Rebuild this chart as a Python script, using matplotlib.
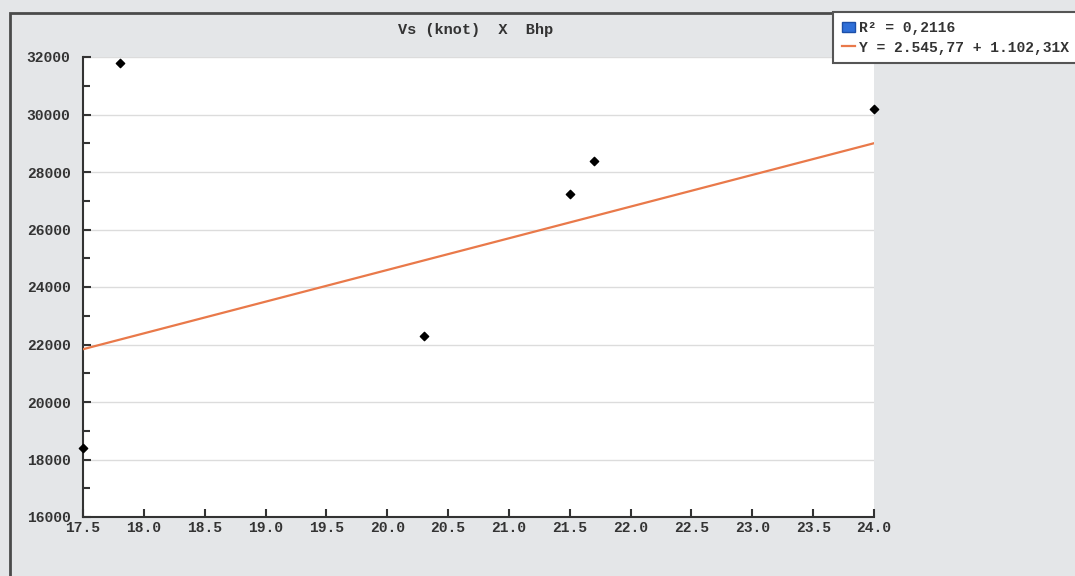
import matplotlib.pyplot as plt
from matplotlib.patches import Patch, Rectangle
from matplotlib.lines import Line2D
import numpy as np

# speed (knots) vs brake horsepower
vs = [17.5, 17.8, 20.3, 21.5, 21.7, 24.0]
bhp = [18400, 31800, 22300, 27250, 28400, 30200]

intercept = 2545.77
slope = 1102.31
r2 = "0,2116"

x_ticks = [17.5, 18.0, 18.5, 19.0, 19.5, 20.0, 20.5, 21.0, 21.5, 22.0, 22.5, 23.0, 23.5, 24.0]
y_ticks = [16000, 18000, 20000, 22000, 24000, 26000, 28000, 30000, 32000]

font = "Liberation Mono"
bg = "#e4e6e8"
line_col = "#e9794a"

fig = plt.figure(figsize=(10.75, 5.76), dpi=100, facecolor=bg)
ax = fig.add_axes([83 / 1075, 1 - 517 / 576, (874 - 83) / 1075, (517 - 57) / 576])

# outer frame
fig.patches.append(Rectangle((10 / 1075, -0.02), 1.0, 1 - 13 / 576 + 0.02,
                             transform=fig.transFigure, fill=False,
                             edgecolor="#4a4a4a", linewidth=2, zorder=0))

ax.set_facecolor("white")
ax.set_xlim(17.5, 24.0)
ax.set_ylim(16000, 32000)

xs = np.array([17.5, 24.0])
ax.plot(xs, intercept + slope * xs, color=line_col, linewidth=1.6, zorder=3)
ax.scatter(vs, bhp, marker="D", s=18, color="black", zorder=4, clip_on=False)

ax.set_xticks(x_ticks)
ax.set_xticklabels([f"{t:.1f}" for t in x_ticks])
ax.set_yticks(y_ticks)
ax.set_yticks(np.arange(17000, 32000, 2000), minor=True)
ax.set_yticklabels([str(t) for t in y_ticks])
ax.grid(axis="y", which="major", color="#dcdcdc", linewidth=1)

for s in ["top", "right"]:
    ax.spines[s].set_visible(False)
for s in ["left", "bottom"]:
    ax.spines[s].set_color("#333333")
    ax.spines[s].set_linewidth(1.5)

ax.tick_params(axis="both", which="both", direction="in", color="#333333", width=1.5)
ax.tick_params(axis="both", which="major", length=6)
ax.tick_params(axis="y", which="minor", length=5)
ax.tick_params(axis="x", pad=3)
ax.tick_params(axis="y", pad=9)
for lab in ax.get_xticklabels() + ax.get_yticklabels():
    lab.set_fontfamily(font)
    lab.set_fontsize(10.5)
    lab.set_fontweight("bold")
    lab.set_color("#333333")

fig.text(476 / 1075, 1 - 30 / 576, "Vs (knot)  X  Bhp", ha="center", va="center",
         fontfamily=font, fontsize=11, fontweight="bold", color="#333333")

handles = [Patch(facecolor="#2f6fd8", edgecolor="#1c4fa8"),
           Line2D([0], [0], color=line_col, linewidth=1.6)]
labels = [f"R\u00b2 = {r2}", "Y = 2.545,77 + 1.102,31X"]
leg = fig.legend(handles, labels, loc="upper right", bbox_to_anchor=(1.003, 1 - 12 / 576),
                 frameon=True, fancybox=False, framealpha=1, edgecolor="#555555",
                 prop={"family": font, "size": 10.5, "weight": "bold"},
                 handlelength=0.9, handletextpad=0.3, borderpad=0.6,
                 labelspacing=0.4, borderaxespad=0)
leg.get_frame().set_linewidth(1.5)
for t in leg.get_texts():
    t.set_color("#333333")

fig.savefig("out.png", dpi=100, facecolor=bg)
